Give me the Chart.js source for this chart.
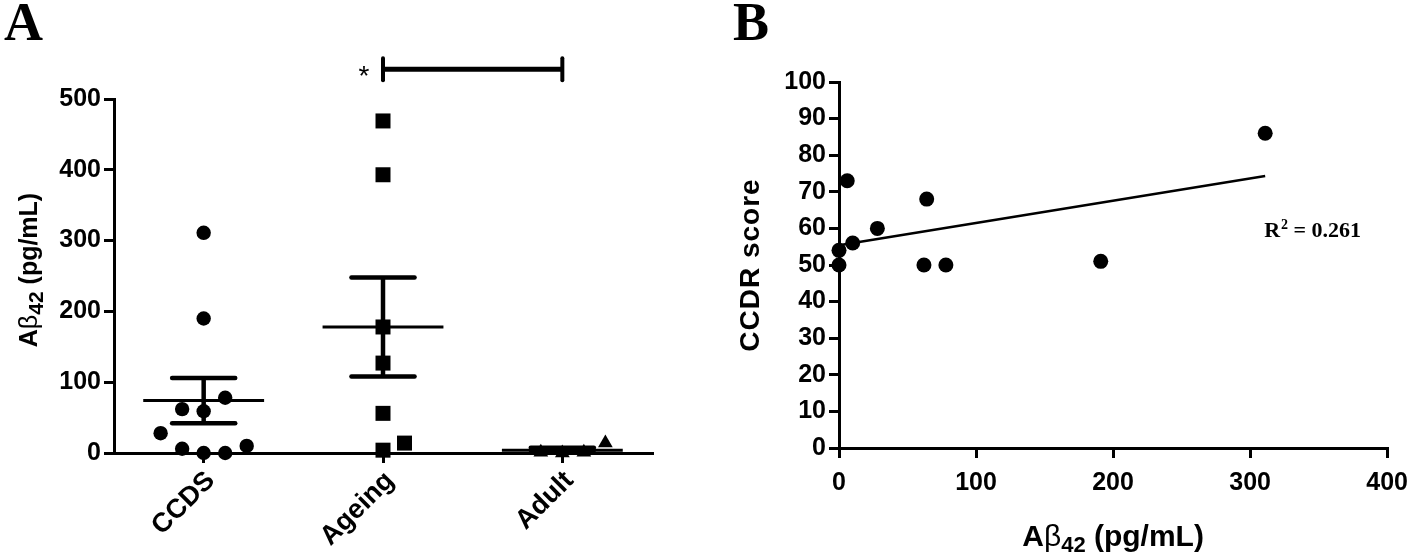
<!DOCTYPE html>
<html><head><meta charset="utf-8">
<script src="https://cdn.jsdelivr.net/npm/chart.js@4.4.1/dist/chart.umd.min.js"></script>
<style>
html,body{margin:0;padding:0;background:#fff;}
#wrap{position:relative;width:1418px;height:558px;overflow:hidden;background:#fff;}
#ca{position:absolute;left:0;top:0;width:700px;height:558px;}
#cb{position:absolute;left:700px;top:0;width:718px;height:558px;}
</style></head>
<body><div id="wrap"><canvas id="ca" width="700" height="558"></canvas><canvas id="cb" width="718" height="558"></canvas></div>
<script>
// ---------- Panel A data ----------
const groups = ['CCDS', 'Ageing', 'Adult'];
const ccdsValues   = [311, 190, 78, 62, 59, 28, 6, 0, 0, 10];
const ccdsJitter   = [0, 0, 0.12, -0.12, 0, -0.24, -0.12, 0, 0.12, 0.24];
const ageingValues = [469, 393, 178, 127, 56, 4, 14];
const ageingJitter = [0, 0, 0, 0, 0, 0, 0.12];
const adultValues  = [1, 0, 1, 14];
const adultJitter  = [-0.12, 0, 0.12, 0.24];
const groupMeans   = [74, 178, 4];
const groupSEM     = [32, 70, 3.5];
const yTicksA      = [0, 100, 200, 300, 400, 500];
const sigFrom = 1, sigTo = 2, sigLevel = 542, sigLabel = '*';

// ---------- Panel B data ----------
const abetaX  = [0, 0, 6, 10, 28, 62, 64, 78, 191, 311];
const ccdrY   = [54, 50, 73, 56, 60, 50, 68, 50, 51, 86];
const fitX    = [0, 311];
const fitY    = [55.4, 74.3];
const xTicksB = [0, 100, 200, 300, 400];
const yTicksB = [0, 10, 20, 30, 40, 50, 60, 70, 80, 90, 100];
const r2Text  = '0.261';

const BOLD = '"Liberation Sans", Arial, sans-serif';
const tickFont = {family: BOLD, size: 25, weight: 'bold'};

function drawRich(ctx, parts, cx, cy, rotate) {
  ctx.save();
  ctx.translate(cx, cy);
  if (rotate) ctx.rotate(-Math.PI / 2);
  let total = 0;
  parts.forEach(p => { ctx.font = p.font; ctx.letterSpacing = p.ls || '0px'; p.w = ctx.measureText(p.text).width; total += p.w; });
  let x = -total / 2;
  ctx.textBaseline = 'alphabetic'; ctx.textAlign = 'left'; ctx.fillStyle = '#000';
  parts.forEach(p => { ctx.font = p.font; ctx.letterSpacing = p.ls || '0px'; ctx.fillText(p.text, x, p.dy || 0); x += p.w; });
  ctx.restore();
}

function pts(values, jitter, gi) {
  return values.map((v, k) => ({x: gi + jitter[k], y: v}));
}

const axisGrid = {display: true, drawOnChartArea: false, drawTicks: true, tickLength: 10, color: '#000', lineWidth: 3};
const axisBorder = {display: true, color: '#000', width: 3};

// ---------- Panel A ----------
const MEAN_HALF = 0.337, CAP_HALF = 0.176;
const panelAPlugin = {
  id: 'panelA',
  beforeDatasetsDraw(chart) {
    const ctx = chart.ctx, xs = chart.scales.x, ys = chart.scales.y;
    ctx.save();
    ctx.strokeStyle = '#000'; ctx.lineCap = 'butt';
    groupMeans.forEach((m, i) => {
      const s = groupSEM[i];
      const yM = ys.getPixelForValue(m), yT = ys.getPixelForValue(m + s), yB = ys.getPixelForValue(m - s);
      const xc = xs.getPixelForValue(i);
      ctx.lineWidth = 3;
      ctx.beginPath(); ctx.moveTo(xs.getPixelForValue(i - MEAN_HALF), yM); ctx.lineTo(xs.getPixelForValue(i + MEAN_HALF), yM); ctx.stroke();
      ctx.lineWidth = 4.5;
      ctx.beginPath(); ctx.moveTo(xc, yT); ctx.lineTo(xc, yB); ctx.stroke();
      ctx.lineCap = 'round';
      [yT, yB].forEach(yy => {
        ctx.beginPath(); ctx.moveTo(xs.getPixelForValue(i - CAP_HALF), yy); ctx.lineTo(xs.getPixelForValue(i + CAP_HALF), yy); ctx.stroke();
      });
      ctx.lineCap = 'butt';
    });
    ctx.restore();
  },
  afterDraw(chart) {
    const ctx = chart.ctx, xs = chart.scales.x, ys = chart.scales.y;
    ctx.save();
    ctx.fillStyle = '#000'; ctx.strokeStyle = '#000';
    ctx.font = 'bold 54px "Liberation Serif", serif';
    ctx.textAlign = 'left'; ctx.textBaseline = 'alphabetic';
    ctx.fillText('A', 4, 40);
    const y = ys.getPixelForValue(sigLevel);
    const x1 = xs.getPixelForValue(sigFrom), x2 = xs.getPixelForValue(sigTo);
    ctx.lineWidth = 5; ctx.lineCap = 'butt';
    ctx.beginPath(); ctx.moveTo(x1, y); ctx.lineTo(x2, y); ctx.stroke();
    ctx.lineWidth = 4; ctx.lineCap = 'round';
    [x1, x2].forEach(xx => { ctx.beginPath(); ctx.moveTo(xx, y - 11); ctx.lineTo(xx, y + 11); ctx.stroke(); });
    ctx.font = '28px "Liberation Sans", Arial, sans-serif';
    ctx.textAlign = 'center';
    ctx.fillText(sigLabel, x1 - 19, y + 16);
    drawRich(ctx, [
      {text: 'A', font: 'bold 25px ' + BOLD},
      {text: 'β', font: '25px ' + BOLD},
      {text: '42', font: 'bold 21px ' + BOLD, dy: 6},
      {text: ' (pg/mL)', font: 'bold 25px ' + BOLD}
    ], 37, (chart.chartArea.top + chart.chartArea.bottom) / 2 - 6, true);
    ctx.restore();
  }
};

new Chart(document.getElementById('ca'), {
  type: 'scatter',
  data: {
    datasets: [
      {data: pts(ccdsValues, ccdsJitter, 0), pointStyle: 'circle', pointRadius: 7.2, backgroundColor: '#000', borderColor: '#000', borderWidth: 0, clip: false},
      {data: pts(ageingValues, ageingJitter, 1), pointStyle: 'rect', pointRadius: 10.6, backgroundColor: '#000', borderColor: '#000', borderWidth: 0, clip: false},
      {data: pts(adultValues, adultJitter, 2), pointStyle: 'triangle', pointRadius: 8.5, backgroundColor: '#000', borderColor: '#000', borderWidth: 0, clip: false}
    ]
  },
  options: {
    responsive: false, animation: false, devicePixelRatio: 1,
    layout: {padding: {top: 99, right: 48, left: 0, bottom: 0}},
    plugins: {legend: {display: false}, tooltip: {enabled: false}},
    scales: {
      x: {
        type: 'linear', min: -0.5, max: 2.5,
        afterBuildTicks: s => { s.ticks = groups.map((g, i) => ({value: i})); },
        afterFit: s => { s.height = 105; },
        grid: axisGrid, border: axisBorder,
        ticks: {callback: v => groups[v], minRotation: 45, maxRotation: 45, color: '#000', font: {family: BOLD, size: 27, weight: 'bold'}, padding: 2, labelOffset: 7}
      },
      y: {
        type: 'linear', min: 0, max: 500,
        afterBuildTicks: s => { s.ticks = yTicksA.map(v => ({value: v})); },
        afterFit: s => { s.width = 114; },
        grid: axisGrid, border: axisBorder,
        ticks: {color: '#000', font: tickFont, padding: 3}
      }
    }
  },
  plugins: [panelAPlugin]
});

// ---------- Panel B ----------
const panelBPlugin = {
  id: 'panelB',
  afterDraw(chart) {
    const ctx = chart.ctx, xs = chart.scales.x, ys = chart.scales.y, ca = chart.chartArea;
    ctx.save();
    ctx.fillStyle = '#000';
    ctx.font = 'bold 54px "Liberation Serif", serif';
    ctx.textAlign = 'left'; ctx.textBaseline = 'alphabetic';
    ctx.fillText('B', 33, 40);
    const rx = xs.getPixelForValue(fitX[1]) - 1, ry = ys.getPixelForValue(57.6);
    ctx.font = 'bold 22px "Liberation Serif", serif';
    ctx.fillText('R', rx, ry);
    let w = ctx.measureText('R').width;
    ctx.font = 'bold 14px "Liberation Serif", serif';
    ctx.fillText('2', rx + w + 1, ry - 8);
    w += ctx.measureText('2').width + 1;
    ctx.font = 'bold 22px "Liberation Serif", serif';
    ctx.fillText(' = ' + r2Text, rx + w, ry);
    drawRich(ctx, [{text: 'CCDR score', font: 'bold 28px ' + BOLD, ls: '1px'}], 59, (ca.top + ca.bottom) / 2, true);
    drawRich(ctx, [
      {text: 'A', font: 'bold 30px ' + BOLD},
      {text: 'β', font: '30px ' + BOLD},
      {text: '42', font: 'bold 22px ' + BOLD, dy: 6},
      {text: ' (pg/mL)', font: 'bold 30px ' + BOLD}
    ], (ca.left + ca.right) / 2, 546, false);
    ctx.restore();
  }
};

new Chart(document.getElementById('cb'), {
  type: 'scatter',
  data: {
    datasets: [
      {type: 'line', data: fitX.map((x, i) => ({x, y: fitY[i]})), borderColor: '#000', borderWidth: 2.5, pointRadius: 0, fill: false, clip: false},
      {data: abetaX.map((x, i) => ({x, y: ccdrY[i]})), pointStyle: 'circle', pointRadius: 7.5, backgroundColor: '#000', borderColor: '#000', borderWidth: 0, clip: false}
    ]
  },
  options: {
    responsive: false, animation: false, devicePixelRatio: 1,
    layout: {padding: {top: 82, right: 24.5, left: 0, bottom: 0}},
    plugins: {legend: {display: false}, tooltip: {enabled: false}},
    scales: {
      x: {
        type: 'linear', min: 0, max: 400,
        afterBuildTicks: s => { s.ticks = xTicksB.map(v => ({value: v})); },
        afterFit: s => { s.height = 110; },
        grid: axisGrid, border: axisBorder,
        ticks: {color: '#000', font: tickFont, padding: 10, maxRotation: 0}
      },
      y: {
        type: 'linear', min: 0, max: 100,
        afterBuildTicks: s => { s.ticks = yTicksB.map(v => ({value: v})); },
        afterFit: s => { s.width = 139; },
        grid: axisGrid, border: axisBorder,
        ticks: {color: '#000', font: tickFont, padding: 3}
      }
    }
  },
  plugins: [panelBPlugin]
});
</script>
</body></html>
